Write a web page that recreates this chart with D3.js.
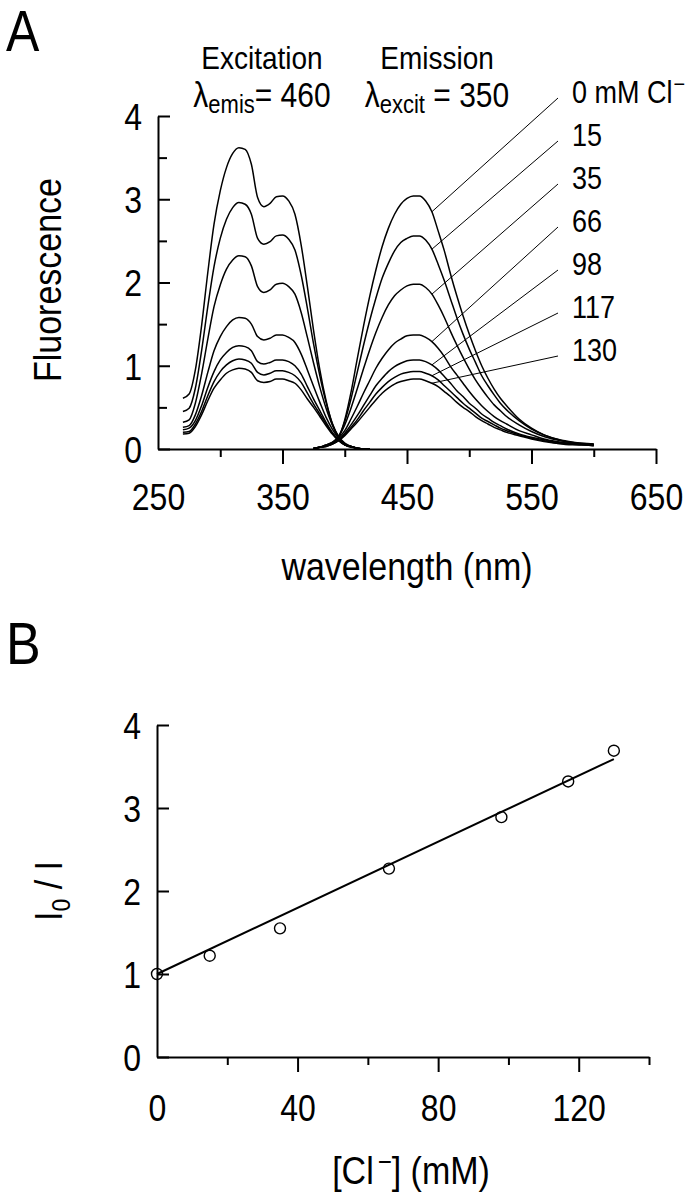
<!DOCTYPE html>
<html><head><meta charset="utf-8">
<script src="https://cdn.jsdelivr.net/npm/d3@7"></script>
<style>
html,body{margin:0;padding:0;background:#fff;}
svg{display:block;}
text{font-family:"Liberation Sans",Arial,Helvetica,sans-serif;fill:#000;}
</style></head><body>
<svg id="c" width="690" height="1199"></svg>
<script>
// ---------- Panel A data ----------
const exWl = [270,275,280,285,290,295,300,305,310,315,320,325,330,335,340,345,350,355,360,365,370,375,380,385,390,395,400,405,410,415,420];
const ex0 = [0.61,0.66,0.95,1.48,2.12,2.70,3.10,3.38,3.55,3.62,3.60,3.42,3.02,2.91,2.95,3.03,3.04,2.98,2.82,2.45,1.95,1.42,0.95,0.58,0.30,0.13,0.05,0.02,0.01,0,0];
const ex15 = [0.45,0.49,0.73,1.18,1.71,2.19,2.53,2.76,2.90,2.96,2.94,2.82,2.53,2.46,2.49,2.56,2.57,2.52,2.39,2.09,1.69,1.26,0.88,0.56,0.31,0.15,0.06,0.03,0.01,0,0];
const ex35 = [0.32,0.35,0.55,0.90,1.32,1.71,1.97,2.16,2.27,2.32,2.31,2.20,1.95,1.88,1.91,1.98,1.99,1.95,1.86,1.64,1.34,1.03,0.74,0.49,0.29,0.15,0.07,0.03,0.01,0,0];
const ex66 = [0.26,0.28,0.41,0.64,0.92,1.18,1.35,1.47,1.55,1.58,1.57,1.50,1.35,1.31,1.33,1.37,1.37,1.34,1.28,1.14,0.95,0.75,0.56,0.38,0.24,0.13,0.06,0.03,0.01,0,0];
const ex98 = [0.23,0.25,0.34,0.52,0.74,0.93,1.07,1.16,1.22,1.24,1.23,1.18,1.05,1.02,1.04,1.07,1.07,1.05,1.00,0.90,0.75,0.60,0.46,0.32,0.20,0.11,0.05,0.03,0.01,0,0];
const ex117 = [0.20,0.21,0.30,0.45,0.64,0.81,0.93,1.01,1.06,1.08,1.07,1.03,0.92,0.89,0.91,0.94,0.94,0.92,0.88,0.80,0.67,0.54,0.42,0.30,0.19,0.11,0.05,0.03,0.01,0,0];
const ex130 = [0.18,0.19,0.27,0.41,0.58,0.73,0.83,0.91,0.95,0.97,0.96,0.92,0.82,0.80,0.81,0.84,0.84,0.82,0.79,0.71,0.60,0.50,0.39,0.28,0.18,0.10,0.05,0.03,0.01,0,0];

const emWl = [375,380,385,390,395,400,405,410,415,420,425,430,435,440,445,450,455,460,465,470,475,480,485,490,495,500,505,510,515,520,525,530,540,550,560,570,580,590,600];
const em0 = [0.01,0.02,0.04,0.07,0.13,0.35,0.68,1.08,1.47,1.83,2.15,2.43,2.65,2.82,2.94,3.01,3.04,3.04,2.98,2.85,2.62,2.38,2.10,1.84,1.60,1.38,1.18,1.00,0.85,0.72,0.61,0.52,0.36,0.25,0.17,0.12,0.08,0.06,0.05];
const em15 = [0.01,0.02,0.05,0.08,0.15,0.33,0.60,0.92,1.24,1.54,1.81,2.05,2.23,2.38,2.48,2.53,2.56,2.56,2.51,2.40,2.22,2.02,1.80,1.58,1.38,1.20,1.04,0.88,0.76,0.65,0.55,0.47,0.34,0.24,0.17,0.12,0.09,0.07,0.06];
const em35 = [0.01,0.02,0.05,0.08,0.15,0.29,0.49,0.72,0.96,1.19,1.40,1.58,1.73,1.84,1.91,1.96,1.98,1.98,1.94,1.86,1.73,1.58,1.41,1.25,1.10,0.96,0.83,0.72,0.62,0.53,0.46,0.39,0.29,0.21,0.15,0.11,0.08,0.07,0.06];
const em66 = [0.01,0.02,0.04,0.07,0.13,0.22,0.36,0.51,0.67,0.82,0.97,1.09,1.19,1.27,1.32,1.36,1.37,1.37,1.34,1.29,1.21,1.11,0.99,0.89,0.79,0.69,0.60,0.52,0.45,0.39,0.34,0.30,0.22,0.17,0.12,0.09,0.07,0.06,0.05];
const em98 = [0.01,0.02,0.04,0.06,0.11,0.19,0.29,0.40,0.52,0.64,0.76,0.85,0.93,0.99,1.03,1.06,1.07,1.07,1.05,1.01,0.95,0.87,0.79,0.70,0.63,0.55,0.49,0.42,0.37,0.32,0.28,0.24,0.18,0.14,0.11,0.08,0.06,0.05,0.05];
const em117 = [0.01,0.02,0.03,0.06,0.10,0.17,0.26,0.35,0.46,0.56,0.66,0.74,0.81,0.86,0.90,0.92,0.93,0.93,0.91,0.88,0.83,0.76,0.69,0.62,0.55,0.49,0.43,0.37,0.33,0.29,0.25,0.22,0.17,0.13,0.10,0.07,0.06,0.05,0.04];
const em130 = [0.01,0.02,0.03,0.06,0.10,0.16,0.24,0.32,0.41,0.50,0.59,0.67,0.73,0.78,0.81,0.83,0.84,0.84,0.82,0.79,0.75,0.69,0.63,0.56,0.50,0.45,0.39,0.34,0.30,0.26,0.23,0.20,0.16,0.12,0.09,0.07,0.05,0.05,0.04];

const concLabels = ["0 mM Cl", "15", "35", "66", "98", "117", "130"];
const leaderWl = 470;

const xTicksA = [250, 350, 450, 550, 650];
const xMinorA = [300, 400, 500, 600];
const yTicksA = [0, 1, 2, 3, 4];
const yMinorA = [0.5, 1.5, 2.5, 3.5];

// ---------- Panel B data ----------
const clConc = [0, 15, 35, 66, 98, 117, 130];
const ratio = [1.00, 1.22, 1.55, 2.27, 2.89, 3.32, 3.69];
const fitCl = [0, 130];
const fitRatio = [1.00, 3.59];
const xTicksB = [0, 40, 80, 120];
const xMinorB = [20, 60, 100, 140];
const yTicksB = [0, 1, 2, 3, 4];

// ---------- drawing ----------
const VS = 1.15; // vertical stretch to mimic the condensed typeface
const svg = d3.select("#c");
const exCurves = [ex0, ex15, ex35, ex66, ex98, ex117, ex130];
const emCurves = [em0, em15, em35, em66, em98, em117, em130];

function txt(g, x, y, size, str, anchor, rot) {
  return g.append("text")
    .attr("transform", `translate(${x},${y})${rot ? ` rotate(${rot})` : ""} scale(1,${VS})`)
    .attr("font-size", size).attr("text-anchor", anchor || "start").text(str);
}

function drawXAxis(g, scale, y0, major, minor, skipFirstTick, labelY) {
  const a = g.append("g").attr("transform", `translate(0,${y0})`)
    .call(d3.axisBottom(scale).tickValues(major).tickSize(15).tickSizeOuter(0).tickFormat(d3.format("d")));
  a.select(".domain").attr("stroke", "#000").attr("stroke-width", 2);
  a.selectAll(".tick line").attr("stroke", "#000").attr("stroke-width", 2);
  if (skipFirstTick) a.selectAll(".tick line").filter(d => d === major[0]).remove();
  a.selectAll(".tick text").attr("y", 0).attr("dy", 0).attr("font-size", 32)
    .attr("transform", `translate(0,${labelY}) scale(1,${VS})`);
  const m = g.append("g").attr("transform", `translate(0,${y0})`)
    .call(d3.axisBottom(scale).tickValues(minor).tickSize(8).tickSizeOuter(0).tickFormat(""));
  m.select(".domain").remove();
  m.selectAll(".tick line").attr("stroke", "#000").attr("stroke-width", 2);
}
function drawYAxis(g, scale, x0, major, minor) {
  const a = g.append("g").attr("transform", `translate(${x0},0)`)
    .call(d3.axisLeft(scale).tickValues(major).tickSize(-12).tickSizeOuter(0).tickPadding(16).tickFormat(d3.format("d")));
  a.select(".domain").attr("stroke", "#000").attr("stroke-width", 2);
  a.selectAll(".tick line").attr("stroke", "#000").attr("stroke-width", 2);
  a.selectAll(".tick text").attr("font-size", 32).attr("x", 0).attr("dy", "0.36em")
    .attr("transform", `translate(-16,0) scale(1,${VS})`);
  if (minor) {
    const m = g.append("g").attr("transform", `translate(${x0},0)`)
      .call(d3.axisLeft(scale).tickValues(minor).tickSize(-9).tickSizeOuter(0).tickFormat(""));
    m.select(".domain").remove();
    m.selectAll(".tick line").attr("stroke", "#000").attr("stroke-width", 2);
  }
}

// Panel A
const xA = d3.scaleLinear().domain([250, 650]).range([158, 656]);
const yA = d3.scaleLinear().domain([0, 4]).range([449, 116]);
const gA = svg.append("g");

txt(svg, 6, 51, 50, "A");

const lineA = d3.line().x(d => xA(d[0])).y(d => yA(d[1])).curve(d3.curveMonotoneX);
exCurves.forEach(c => {
  gA.append("path").datum(exWl.map((w, i) => [w, c[i]])).attr("d", lineA)
    .attr("fill", "none").attr("stroke", "#000").attr("stroke-width", 1.5);
});
emCurves.forEach(c => {
  gA.append("path").datum(emWl.map((w, i) => [w, c[i]])).attr("d", lineA)
    .attr("fill", "none").attr("stroke", "#000").attr("stroke-width", 1.5);
});

drawXAxis(gA, xA, yA(0), xTicksA, xMinorA, true, 61);
drawYAxis(gA, yA, xA(250), yTicksA, yMinorA);

// leader lines and labels
const li = emWl.indexOf(leaderWl);
concLabels.forEach((lab, i) => {
  const by = 103 + i * 43;
  gA.append("line")
    .attr("x1", xA(leaderWl)).attr("y1", yA(emCurves[i][li]))
    .attr("x2", 558).attr("y2", by - 5)
    .attr("stroke", "#000").attr("stroke-width", 1);
  const t = txt(gA, 572, by, 27, lab);
  if (i === 0) t.append("tspan").attr("font-size", 20).attr("dy", -10).attr("dx", 1).text("\u2212");
});

// titles
txt(gA, 262, 69, 28, "Excitation", "middle");
txt(gA, 437, 69, 28, "Emission", "middle");
const t1 = txt(gA, 262, 107, 30, "", "middle");
t1.append("tspan").text("\u03bb");
t1.append("tspan").attr("font-size", 22).attr("dy", 5).text("emis");
t1.append("tspan").attr("dy", -5).text("= 460");
const t2 = txt(gA, 437, 107, 30, "", "middle");
t2.append("tspan").text("\u03bb");
t2.append("tspan").attr("font-size", 22).attr("dy", 5).text("excit");
t2.append("tspan").attr("dy", -5).text(" = 350");

txt(gA, 61, 280, 34, "Fluorescence", "middle", -90);
txt(gA, 407, 580, 34, "wavelength (nm)", "middle");

// Panel B
const xB = d3.scaleLinear().domain([0, 140]).range([157, 649]);
const yB = d3.scaleLinear().domain([0, 4]).range([1057, 725]);
const gB = svg.append("g");
txt(svg, 6, 664, 52, "B");

drawXAxis(gB, xB, yB(0), xTicksB, xMinorB, true, 64);
drawYAxis(gB, yB, xB(0), yTicksB, null);

gB.append("line")
  .attr("x1", xB(fitCl[0])).attr("y1", yB(fitRatio[0]))
  .attr("x2", xB(fitCl[1])).attr("y2", yB(fitRatio[1]))
  .attr("stroke", "#000").attr("stroke-width", 2);
gB.selectAll("circle.pt").data(clConc.map((c, i) => [c, ratio[i]])).join("circle")
  .attr("class", "pt").attr("cx", d => xB(d[0])).attr("cy", d => yB(d[1])).attr("r", 5.5)
  .attr("fill", "none").attr("stroke", "#000").attr("stroke-width", 1.4);

const yl = txt(gB, 62, 891, 34, "", "middle", -90);
yl.append("tspan").text("I");
yl.append("tspan").attr("font-size", 23).attr("dy", 7).text("0");
yl.append("tspan").attr("dy", -7).text(" / I");

const xl = txt(gB, 411, 1184, 34, "", "middle");
xl.append("tspan").text("[Cl");
xl.append("tspan").attr("font-size", 24).attr("dy", -11).attr("dx", 4).text("\u2212");
xl.append("tspan").attr("dy", 11).text("] (mM)");
</script>
</body></html>
